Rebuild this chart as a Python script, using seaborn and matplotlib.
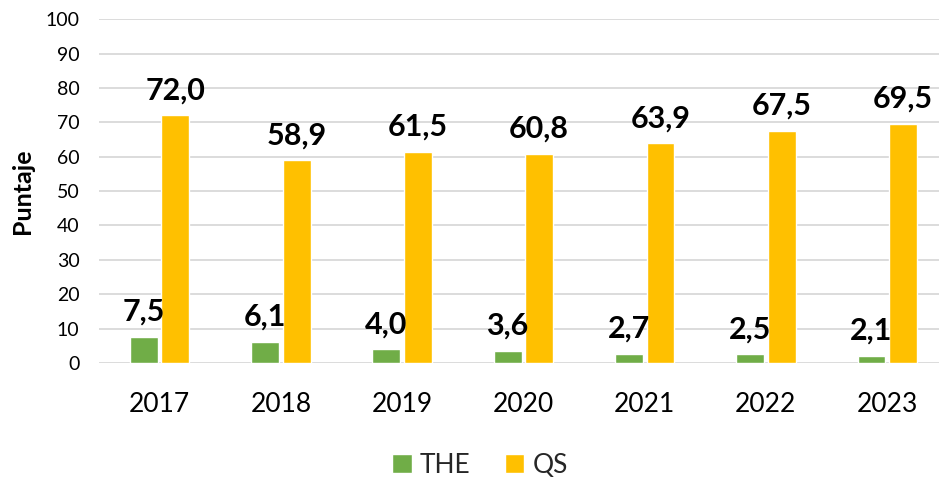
import pandas as pd
import matplotlib.pyplot as plt
import seaborn as sns
from matplotlib.patches import Patch

sns.set_theme(style="white")
plt.rcParams['font.family'] = ['Lato', 'DejaVu Sans']

# Colors (Excel-like)
colors = {'THE': '#70AD47', 'QS': '#FFC000'}

# Data
years = ['2017', '2018', '2019', '2020', '2021', '2022', '2023']
the_scores = [7.5, 6.1, 4.0, 3.6, 2.7, 2.5, 2.1]
qs_scores = [72.0, 58.9, 61.5, 60.8, 63.9, 67.5, 69.5]
series = ['THE', 'QS']
y_ticks = list(range(0, 101, 10))

df = pd.DataFrame({
    'year': years * 2,
    'score': the_scores + qs_scores,
    'ranking': ['THE'] * len(years) + ['QS'] * len(years),
})

fig = plt.figure(figsize=(9.39, 4.78), dpi=100)
ax = fig.add_axes([0.1054, 0.2406, 0.904, 0.7194])

sns.barplot(data=df, x='year', y='score', hue='ranking', hue_order=series,
            palette=[colors[s] for s in series], width=0.52, gap=0.12,
            saturation=1, ax=ax, legend=False)

# Data labels with decimal comma
for container, vals in zip(ax.containers, [the_scores, qs_scores]):
    ax.bar_label(container, labels=[f"{v:.1f}".replace('.', ',') for v in vals],
                 padding=8, fontsize=22, fontweight='bold', color='black')

ax.set_ylim(0, 100)
ax.set_xlim(-0.5, 6.5)
ax.set_yticks(y_ticks)
ax.yaxis.grid(True, color='#D9D9D9', linewidth=1.3)
ax.set_axisbelow(True)
sns.despine(ax=ax, left=True, bottom=True)
ax.tick_params(axis='x', length=0, pad=21, labelsize=19, colors='black')
ax.tick_params(axis='y', length=0, pad=14, labelsize=14, colors='black')
ax.set_xlabel('')
ax.set_ylabel('Puntaje', fontsize=18, fontweight='bold', color='black', labelpad=8)

handles = [Patch(facecolor=colors[s], label=s) for s in series]
fig.legend(handles=handles, loc='center', bbox_to_anchor=(0.511, 0.027), ncol=2,
           frameon=False, fontsize=19, handlelength=0.75, handleheight=0.75,
           handletextpad=0.3, columnspacing=1.3)

fig.savefig('out.png', dpi=100)
